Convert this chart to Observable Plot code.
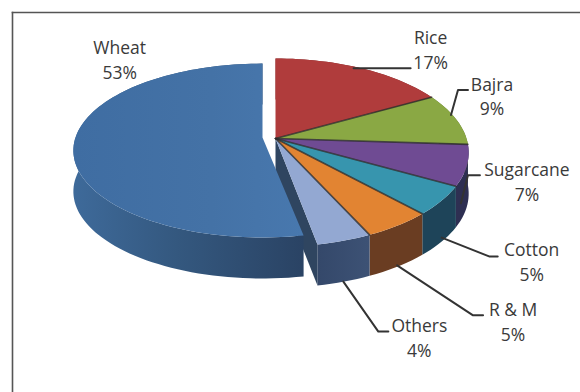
<!DOCTYPE html>
<html>
<head>
<meta charset="utf-8">
<script src="https://cdn.jsdelivr.net/npm/d3@7"></script>
<script src="https://cdn.jsdelivr.net/npm/@observablehq/plot@0.6"></script>
<style>
  html, body { margin: 0; padding: 0; background: #fff; }
  svg { display: block; }
</style>
</head>
<body>
<div id="chart"></div>
<script>
// Share of crops, clockwise from twelve o'clock, Wheat closing the circle.
const crops = ["Rice", "Bajra", "Sugarcane", "Cotton", "R & M", "Others", "Wheat"];
const shares = [17, 9, 7, 5, 5, 4, 53];

// Top face and outer wall colours.
const topColors = ["#b03c3c", "#8aa844", "#6f4b93", "#3795ae", "#e28432", "#93a8d2", "url(#wheatTop)"];
const wallColors = ["#7a2a2a", "#5f7530", "#2e2f52", "#1e4459", "#6a3d22", "url(#othersWall)", "url(#wheatWall)"];
const cutFaceColor = "#2f4560";
const inkColor = "#3a3a3a";
const leaderColor = "#333333";

// Viewing geometry of the tilted disc.
const tilt = {persp: 0.15, depth: 41};
const mainCentre = {cx: 275, cy: 138, rx: 191, ry: 92};
const wheatCentre = {cx: 262, cy: 137, rx: 187, ry: 85};

// Leader elbows relative to the slice rim, and text placement after the last elbow.
const rimNudge = {Rice: [-8, 0], Bajra: [-5, -4], Sugarcane: [-6, 38], Cotton: [0, 37], "R & M": [-1, 40], Others: [-1, 41], Wheat: [46, -87]};
const elbows = {
  Rice: [[0, 0], [57, 0]],
  Bajra: [[0, 0], [7, -25], [17, -25]],
  Sugarcane: [[0, 0], [7, -28], [19, -28]],
  Cotton: [[0, 0], [48, 19], [56, 19]],
  "R & M": [[0, 0], [76, 50], [86, 50]],
  Others: [[0, 0], [35, 50], [45, 50]],
  Wheat: [[0, 0]]
};
const textNudge = {Rice: [20, -20], Bajra: [24, 5], Sugarcane: [47, 5], Cotton: [34, 4], "R & M": [30, 5], Others: [31, 5], Wheat: [0, 0]};

const rad = Math.PI / 180;
function project(angle, frac, c) {
  const u = Math.sin(angle * rad), v = -Math.cos(angle * rad);
  const den = 1 - tilt.persp * v;
  return {x: c.cx + c.rx * frac * u / den, y: c.cy + c.ry * frac * v / den};
}

// Turn the shares into angular spans.
let running = 0;
const slices = crops.map((name, i) => {
  const start = running * 3.6;
  running += shares[i];
  const end = running * 3.6;
  return {name, share: shares[i], start, end, mid: (start + end) / 2, centre: name === "Wheat" ? wheatCentre : mainCentre, top: topColors[i], wall: wallColors[i]};
});

function arc(s) {
  const n = Math.max(2, Math.ceil((s.end - s.start) / 2));
  return d3.range(n + 1).map(k => project(s.start + (s.end - s.start) * k / n, 1, s.centre));
}
const topFace = s => [project(0, 0, s.centre), ...arc(s)];
const wallFace = s => {
  const rim = arc(s);
  return [...rim, ...rim.slice().reverse().map(p => ({x: p.x, y: p.y + tilt.depth}))];
};
const cutFace = s => {
  const a = project(0, 0, s.centre), b = project(s.end, 1, s.centre);
  return [a, b, {x: b.x, y: b.y + tilt.depth}, {x: a.x, y: a.y + tilt.depth}];
};
const poly = (pts, fill) => Plot.line(pts, {x: "x", y: "y", fill, stroke: "none", curve: "linear"});

const others = slices.find(s => s.name === "Others");
const wheat = slices.find(s => s.name === "Wheat");
const mainSlices = slices.filter(s => s !== wheat);

const spokes = mainSlices.slice(0, -1).map(s => [project(0, 0, s.centre), project(s.end, 1, s.centre)]);

const leaders = slices.map(s => {
  const rim = project(s.mid, 1, s.centre);
  const [nx, ny] = rimNudge[s.name];
  const pts = elbows[s.name].map(([dx, dy]) => ({x: rim.x + nx + dx, y: rim.y + ny + dy}));
  const last = pts[pts.length - 1];
  const [tx, ty] = textNudge[s.name];
  return {name: s.name, pts, label: `${s.name}\n${s.share}%`, x: last.x + tx, y: last.y + ty};
});

function gradient(id, stops) {
  return d3.create("svg:linearGradient").attr("id", id).call(g => {
    stops.forEach(([o, c]) => g.append("stop").attr("offset", o).attr("stop-color", c));
  }).node();
}
const defs = () => {
  const d = d3.create("svg:defs");
  d.append(() => gradient("wheatTop", [[0, "#3f6da2"], [0.6, "#4472a6"], [1, "#4878ae"]]));
  d.append(() => gradient("wheatWall", [[0, "#3e6a9a"], [0.45, "#34587f"], [1, "#2a4364"]]));
  d.append(() => gradient("othersWall", [[0, "#34486a"], [1, "#3d5275"]]));
  return d.node();
};

const chart = Plot.plot({
  width: 580, height: 392,
  marginLeft: 12, marginTop: 12, marginRight: 0, marginBottom: 0,
  x: {domain: [12, 580], range: [12, 580], axis: null},
  y: {domain: [12, 392], range: [12, 392], axis: null},
  style: {background: "#fff", overflow: "hidden"},
  marks: [
    defs,
    Plot.frame({anchor: "top", stroke: "#555", strokeWidth: 1.6}),
    Plot.frame({anchor: "left", stroke: "#555", strokeWidth: 1.6}),
    // Right-hand group: back walls first, then the cut face of Others.
    ...mainSlices.map(s => poly(wallFace(s), s.wall)),
    poly(cutFace(others), cutFaceColor),
    // Wheat, pulled out to the left.
    poly(wallFace(wheat), wheat.wall),
    poly(topFace(wheat), wheat.top),
    ...mainSlices.map(s => poly(topFace(s), s.top)),
    ...spokes.map(pts => Plot.line(pts, {x: "x", y: "y", stroke: "#2c2c2c", strokeOpacity: 0.8, strokeWidth: 1.6})),
    ...leaders.filter(l => l.pts.length > 1).map(l => Plot.line(l.pts, {x: "x", y: "y", stroke: leaderColor, strokeWidth: 2, curve: "linear"})),
    Plot.text(leaders, {x: "x", y: "y", text: "label", fill: inkColor, fontSize: 17.5, lineHeight: 1.41, fontFamily: "'Open Sans', sans-serif", textAnchor: "middle"})
  ]
});
document.getElementById("chart").append(chart);
</script>
</body>
</html>
